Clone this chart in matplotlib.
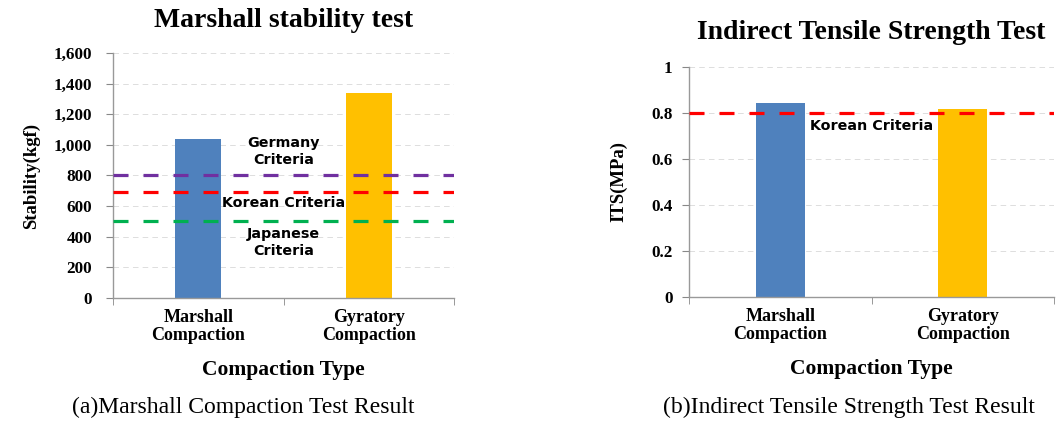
import matplotlib
matplotlib.use("Agg")
import matplotlib.pyplot as plt
import numpy as np

plt.rcParams['lines.scale_dashes'] = False

categories = ["Marshall\nCompaction", "Gyratory\nCompaction"]
stability = [1038, 1337]
its = [0.844, 0.816]
criteria_stability = {"Germany": 800, "Korean": 690, "Japanese": 500}
criteria_its = 0.8

bar_colors = ["#4F81BD", "#FFC000"]
serif = "Liberation Serif"
sans = "DejaVu Sans"

fig = plt.figure(figsize=(10.64, 4.24), dpi=100)
ax1 = fig.add_axes([0.1062, 0.2972, 0.3205, 0.5778])
ax2 = fig.add_axes([0.6476, 0.2995, 0.343, 0.543])

def style(ax, ymax, step, fmt, ypad):
    ax.set_xlim(-0.5, 1.5)
    ax.set_ylim(0, ymax)
    ticks = np.arange(0, ymax + step / 2, step)
    ax.set_yticks(ticks)
    ax.set_yticklabels([fmt(t) for t in ticks], fontfamily=serif, fontweight="bold", fontsize=12.3)
    ax.set_xticks([0, 1])
    ax.set_xticklabels(categories, fontfamily=serif, fontweight="bold", fontsize=13, linespacing=1.05)
    ax.set_xticks([-0.5, 0.5, 1.5], minor=True)
    ax.tick_params(axis="x", which="major", length=0, pad=8)
    ax.tick_params(axis="x", which="minor", length=5, color="#888888", direction="out")
    ax.tick_params(axis="y", length=5, color="#888888", direction="out", pad=ypad)
    for s in ["top", "right"]:
        ax.spines[s].set_visible(False)
    for s in ["left", "bottom"]:
        ax.spines[s].set_color("#999999")
        ax.spines[s].set_linewidth(1.0)
    ax.grid(axis="y", color="#dddddd", linestyle=(0, (4, 3)), linewidth=0.7)
    ax.set_axisbelow(True)
    ax.set_xlabel("Compaction Type", fontfamily=serif, fontweight="bold", fontsize=15.5, labelpad=12)

x = np.arange(len(categories))

# Left chart
ax1.bar(x, stability, width=0.27, color=bar_colors, zorder=2)
style(ax1, 1600, 200, lambda t: f"{int(t):,}", 10)
line_colors = {"Germany": "#7030A0", "Korean": "#FF0000", "Japanese": "#00B050"}
for k, v in criteria_stability.items():
    ax1.axhline(v, color=line_colors[k], linewidth=2.3, linestyle=(0, (10.8, 10.8)), zorder=3)
ax1.text(0.5, 955, "Germany\nCriteria", ha="center", va="center", fontfamily=sans,
         fontsize=10.3, fontweight="bold", linespacing=1.25, zorder=4)
ax1.text(0.5, 620, "Korean Criteria", ha="center", va="center", fontfamily=sans,
         fontsize=10.3, fontweight="bold", zorder=4)
ax1.text(0.5, 360, "Japanese\nCriteria", ha="center", va="center", fontfamily=sans,
         fontsize=10.3, fontweight="bold", linespacing=1.25, zorder=4)
ax1.set_ylabel("Stability(kgf)", fontfamily=serif, fontweight="bold", fontsize=13.5, labelpad=10)
ax1.set_title("Marshall stability test", fontfamily=serif, fontweight="bold", fontsize=20, pad=19)

# Right chart
ax2.bar(x, its, width=0.27, color=bar_colors, zorder=2)
style(ax2, 1.0, 0.2, lambda t: f"{t:g}", 7)
ax2.axhline(criteria_its, color="#FF0000", linewidth=2.3, linestyle=(0, (10.8, 10.8)), zorder=3)
ax2.text(0.5, 0.744, "Korean Criteria", ha="center", va="center", fontfamily=sans,
         fontsize=10.3, fontweight="bold", zorder=4)
ax2.set_ylabel("ITS(MPa)", fontfamily=serif, fontweight="bold", fontsize=13.5, labelpad=17)
ax2.set_title("Indirect Tensile Strength Test", fontfamily=serif, fontweight="bold", fontsize=20, pad=20)

fig.text(243 / 1064, 1 - 407 / 424, "(a)Marshall Compaction Test Result", ha="center", va="center",
         fontfamily=serif, fontsize=17)
fig.text(849 / 1064, 1 - 407 / 424, "(b)Indirect Tensile Strength Test Result", ha="center", va="center",
         fontfamily=serif, fontsize=17)

fig.savefig("out.png", dpi=100)
